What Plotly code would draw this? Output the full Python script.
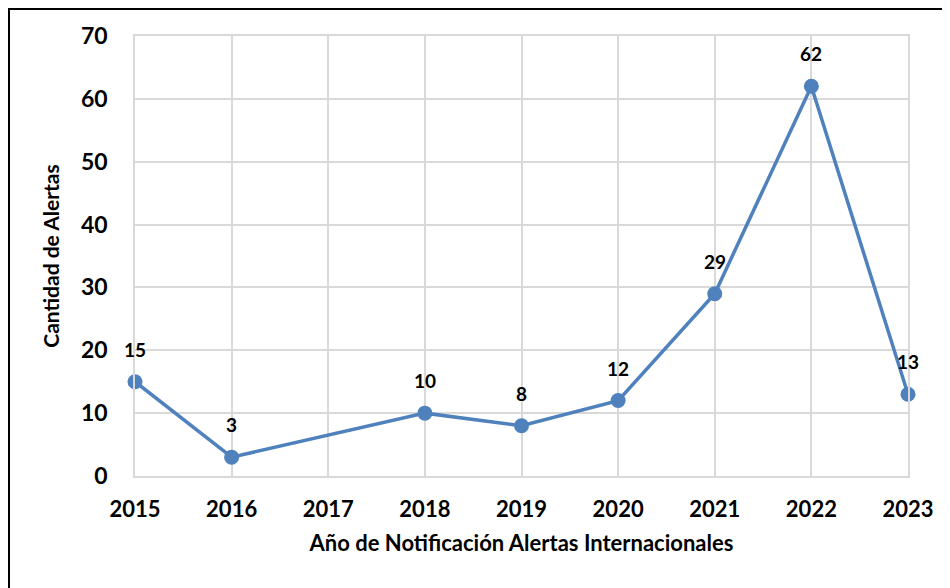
import plotly.graph_objects as go

years = [2015, 2016, 2017, 2018, 2019, 2020, 2021, 2022, 2023]
alertas = [15, 3, None, 10, 8, 12, 29, 62, 13]

FONT = "Lato"
BLUE = "#4f81bd"
GRID = "#d9d9d9"

fig = go.Figure()
fig.add_trace(go.Scatter(
    x=years, y=alertas, mode="lines+markers",
    line=dict(color=BLUE, width=3.5),
    marker=dict(color=BLUE, size=15),
    connectgaps=True, cliponaxis=False, showlegend=False,
))

for yr, v in zip(years, alertas):
    if v is None:
        continue
    fig.add_annotation(x=yr, y=v, text=str(v), showarrow=False,
                       yanchor="bottom", yshift=19,
                       font=dict(family=FONT, size=19, color="black", weight="bold"))

fig.update_layout(
    width=942, height=580,
    margin=dict(l=127, r=42, t=28, b=112),
    paper_bgcolor="white", plot_bgcolor="white",
    font=dict(family=FONT, color="black"),
    xaxis=dict(
        range=[2015, 2023], tickvals=years, ticktext=[str(y) for y in years],
        showgrid=True, gridcolor=GRID, gridwidth=1.5,
        showline=True, linecolor=GRID, linewidth=1.5, mirror=True,
        zeroline=False, ticks="", ticklabelstandoff=13,
        tickfont=dict(family=FONT, size=22, color="black", weight="bold"),
        title=dict(text="Año de Notificación Alertas Internacionales", standoff=14,
                   font=dict(family=FONT, size=22, color="black", weight="bold")),
    ),
    yaxis=dict(
        range=[0, 70], dtick=10,
        showgrid=True, gridcolor=GRID, gridwidth=1.5,
        showline=True, linecolor=GRID, linewidth=1.5, mirror=True,
        zeroline=False, ticks="", ticklabelstandoff=21,
        tickfont=dict(family=FONT, size=23, color="black", weight="bold"),
        title=dict(text="Cantidad de Alertas", standoff=16,
                   font=dict(family=FONT, size=21, color="black", weight="bold")),
    ),
)

# outer chart border (left and top visible, extends past right/bottom edges)
fig.add_shape(type="rect", xref="paper", yref="paper",
              x0=(1 - 127) / 773, x1=(960 - 127) / 773,
              y0=(468 - 600) / 440, y1=(468 - 1) / 440,
              line=dict(color="black", width=2), layer="below")

fig.write_html("out.html")
